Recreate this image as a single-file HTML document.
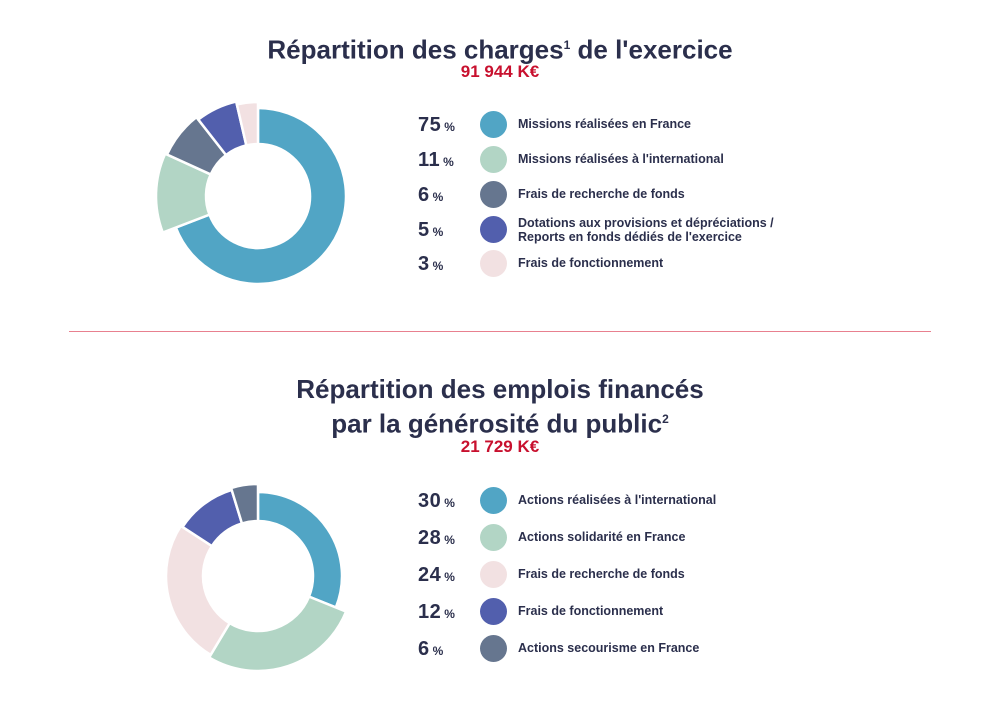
<!DOCTYPE html>
<html><head><meta charset="utf-8"><style>
body{margin:0;background:#fff;width:1000px;height:708px;overflow:hidden;font-family:"Liberation Sans",sans-serif;color:#2b2f4c}
.t{position:absolute;left:0;width:1000px;text-align:center;font-weight:bold;font-size:26px;line-height:30px}
.r{position:absolute;left:0;width:1000px;text-align:center;font-weight:bold;font-size:17px;color:#c8102e}
.row{position:absolute;left:0;height:28px}
.n{position:absolute;left:418px;width:60px;font-weight:bold;font-size:20px;top:3px;white-space:nowrap;letter-spacing:0.5px}
.n span{font-size:12px;margin-left:3px;letter-spacing:0}
.c{position:absolute;left:480px;top:0;width:27px;height:27px;border-radius:50%}
.l{position:absolute;left:518px;font-size:12.5px;font-weight:bold;white-space:nowrap;line-height:14px;color:#2b2f4c}
</style></head><body>
<div class="t" style="top:30px">Répartition des charges<sup style="font-size:12px">1</sup> de l'exercice</div>
<div class="r" style="top:62px">91 944 K€</div>
<div class="t" style="top:374px">Répartition des emplois financés<br>par la générosité du public<sup style="font-size:12px">2</sup></div>
<div class="r" style="top:437px">21 729 K€</div>
<div style="position:absolute;left:69px;top:331px;width:862px;height:1px;background:#e8808f"></div>
<svg id="s" width="1000" height="708" style="position:absolute;left:0;top:0"></svg>
<div id="leg"></div>
<script>
function arc(cx,cy,ri,ro,a0,a1,col){var r=Math.PI/180;function p(R,a){return [cx+R*Math.sin(a*r),cy-R*Math.cos(a*r)]}
var L=(a1-a0)>180?1:0,A=p(ro,a0),B=p(ro,a1),C=p(ri,a1),D=p(ri,a0);
return '<path d="M'+A+' A'+ro+','+ro+' 0 '+L+' 1 '+B+' L'+C+' A'+ri+','+ri+' 0 '+L+' 0 '+D+'Z" fill="'+col+'" stroke="#fff" stroke-width="2.5"/>';}
var B='#51a5c5',G='#b2d5c5',S='#66768f',I='#525fad',P='#f2e1e2',h='';
h+=arc(258,196,52,88,0,249,B)+arc(258,196,52,102,249,294.5,G)+arc(258,196,52,100,294.5,322,S)+arc(258,196,52,97,322,347,I)+arc(258,196,52,94,347,360,P);
h+=arc(258,576,55,84,0,112,B)+arc(258,576,55,95,112,211,G)+arc(258,576,55,92,211,303,P)+arc(258,576,55,90,303,343,I)+arc(258,576,55,92,343,360,S);
document.getElementById('s').innerHTML=h;
var rows=[[111,'75',B,'Missions réalisées en France'],[146,'11',G,'Missions réalisées à l\'international'],[181,'6',S,'Frais de recherche de fonds'],[216,'5',I,'Dotations aux provisions et dépréciations /<br>Reports en fonds dédiés de l\'exercice'],[250,'3',P,'Frais de fonctionnement'],
[487,'30',B,'Actions réalisées à l\'international'],[524,'28',G,'Actions solidarité en France'],[561,'24',P,'Frais de recherche de fonds'],[598,'12',I,'Frais de fonctionnement'],[635,'6',S,'Actions secourisme en France']];
var o='';rows.forEach(function(r){var two=r[3].indexOf('<br>')>0;
o+='<div class="row" style="top:'+r[0]+'px"><div class="n">'+r[1]+'<span>%</span></div><div class="c" style="background:'+r[2]+'"></div><div class="l" style="top:'+(two?0:6)+'px">'+r[3]+'</div></div>';});
document.getElementById('leg').innerHTML=o;
</script>
</body></html>
